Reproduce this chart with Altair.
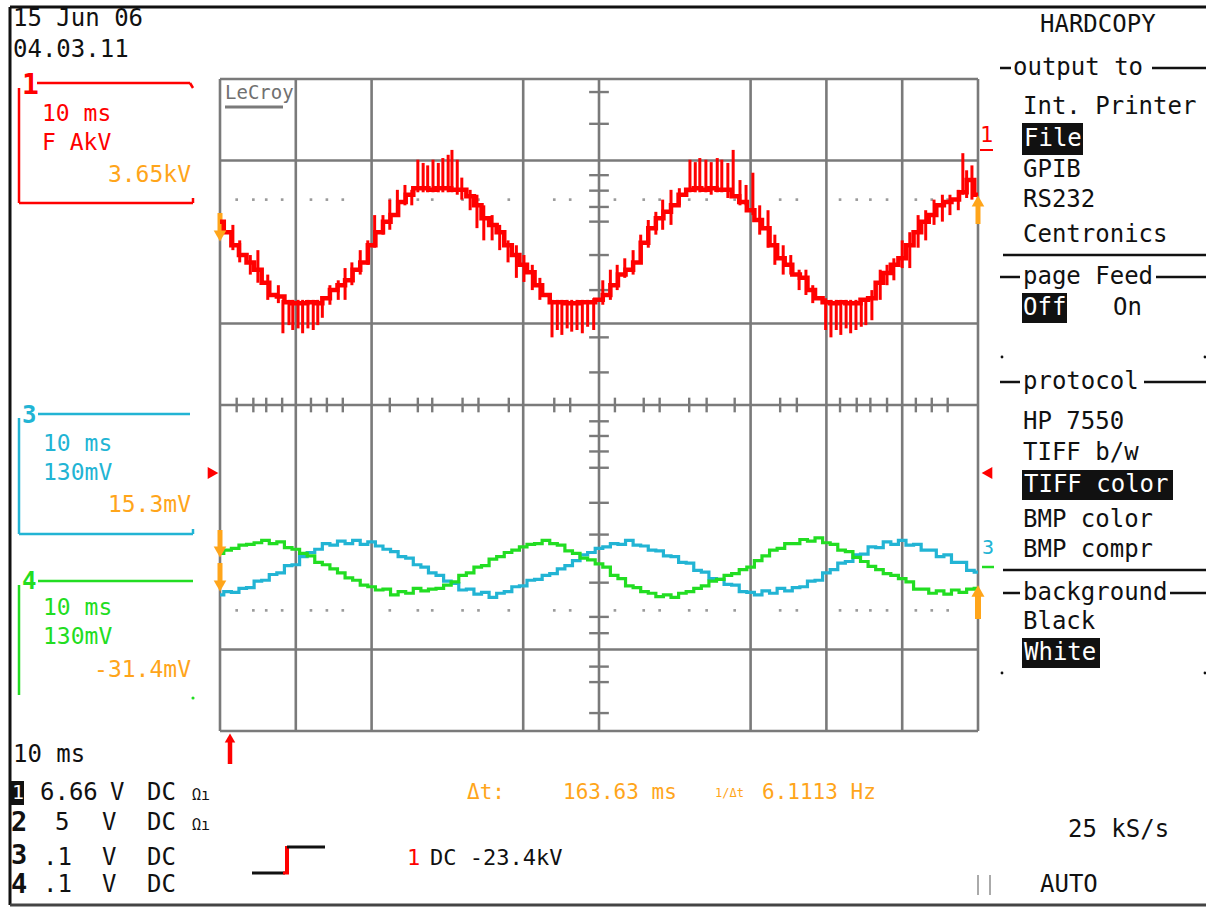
import altair as alt
import pandas as pd

# ---------------------------------------------------------------------------
# Screen geometry of the scope display: graticule of 10 x 8 divisions
# ---------------------------------------------------------------------------
W, H = 1206, 907
GRID_LEFT = 220.0      # left edge of the graticule (px)
GRID_MID_Y = 405.0     # horizontal centre line (px)
PX_PER_DIV_X = 75.8
PX_PER_DIV_Y = 81.5


def dx(px):
    """screen column -> time divisions"""
    return (px - GRID_LEFT) / PX_PER_DIV_X


def dy(py):
    """screen row -> vertical divisions"""
    return (GRID_MID_Y - py) / PX_PER_DIV_Y


XS = alt.Scale(domain=[dx(0), dx(W)], nice=False, zero=False)
YS = alt.Scale(domain=[dy(H), dy(0)], nice=False, zero=False)

RED = "#ff0000"
CYAN = "#22b4d4"
GREEN = "#22dd22"
ORANGE = "#ffa51a"
GRID = "#7a7a7a"
BLACK = "#111111"
WHITE = "#ffffff"
FONT = "DejaVu Sans Mono"

# ---------------------------------------------------------------------------
# Acquired traces, one sample every 0.1 div (values in divisions)
# ---------------------------------------------------------------------------
T = [i / 10 for i in range(101)]

RED_DIV = [
    2.25, 2.12, 1.96, 1.84, 1.75, 1.66, 1.50, 1.35, 1.33, 1.26,
    1.25, 1.25, 1.26, 1.25, 1.31, 1.41, 1.47, 1.53, 1.66, 1.75,
    1.96, 2.12, 2.25, 2.33, 2.49, 2.58, 2.66, 2.66, 2.64, 2.66,
    2.66, 2.64, 2.64, 2.56, 2.45, 2.29, 2.21, 2.12, 1.96, 1.84,
    1.72, 1.63, 1.47, 1.35, 1.26, 1.26, 1.25, 1.25, 1.26, 1.26,
    1.29, 1.35, 1.47, 1.60, 1.66, 1.75, 1.99, 2.17, 2.29, 2.37,
    2.45, 2.58, 2.64, 2.66, 2.64, 2.66, 2.64, 2.64, 2.56, 2.49,
    2.39, 2.27, 2.17, 1.96, 1.80, 1.72, 1.60, 1.56, 1.41, 1.31,
    1.26, 1.25, 1.26, 1.25, 1.25, 1.29, 1.31, 1.50, 1.62, 1.72,
    1.80, 1.96, 2.12, 2.25, 2.33, 2.45, 2.49, 2.52, 2.61, 2.76,
    2.58,
]

# switching spikes riding on channel 1 (time, top, bottom)
RED_SPIKE_T = [
    0.17, 0.26, 0.40, 0.50, 0.63, 0.77,
    0.83, 0.91, 0.96, 1.03, 1.09, 1.16, 1.23, 1.29, 1.35,
    1.45, 1.56, 1.65, 1.74, 1.85, 1.95, 2.04, 2.15, 2.24, 2.34, 2.44, 2.53,
    2.61, 2.68, 2.74, 2.81, 2.88, 2.94, 3.01, 3.06, 3.13, 3.19,
    3.30, 3.39, 3.48, 3.59, 3.69, 3.80, 3.91, 4.01, 4.12, 4.22,
    4.38, 4.45, 4.51, 4.58, 4.64, 4.71, 4.78, 4.85, 4.93,
    5.05, 5.15, 5.24, 5.34, 5.45, 5.55, 5.65, 5.75, 5.84, 5.95, 6.06,
    6.20, 6.27, 6.33, 6.41, 6.48, 6.56, 6.62, 6.70, 6.77, 6.86, 6.94, 7.03,
    7.12, 7.23, 7.32, 7.43, 7.53, 7.64, 7.73, 7.82,
    7.99, 8.06, 8.13, 8.19, 8.26, 8.32, 8.39, 8.46, 8.52, 8.60,
    8.71, 8.80, 8.89, 9.00, 9.10, 9.21, 9.31, 9.42, 9.53, 9.63, 9.74,
    9.80, 9.85, 9.92,
]
RED_SPIKE_HI = [
    2.21, 2.02, 1.84, 1.90, 1.60, 1.47,
    1.29, 1.29, 1.29, 1.29, 1.29, 1.29, 1.29, 1.29, 1.33,
    1.47, 1.53, 1.68, 1.75, 1.90, 2.02, 2.33, 2.33, 2.52, 2.64, 2.70, 2.64,
    3.01, 2.97, 2.94, 3.01, 2.97, 3.03, 3.07, 3.13, 3.01, 2.79,
    2.64, 2.58, 2.45, 2.33, 2.21, 2.02, 1.96, 1.84, 1.72, 1.56,
    1.29, 1.29, 1.29, 1.29, 1.29, 1.29, 1.29, 1.29, 1.31,
    1.53, 1.66, 1.72, 1.80, 1.90, 2.09, 2.27, 2.37, 2.52, 2.64, 2.66,
    3.01, 2.98, 3.03, 3.01, 2.98, 3.03, 3.01, 2.97, 3.13, 2.76, 2.70, 2.85,
    2.45, 2.39, 2.09, 1.96, 1.84, 1.66, 1.66, 1.47,
    1.31, 1.29, 1.29, 1.29, 1.29, 1.29, 1.29, 1.29, 1.31, 1.41,
    1.66, 1.72, 1.80, 2.02, 2.12, 2.33, 2.39, 2.52, 2.58, 2.58, 2.64,
    3.09, 2.88, 2.94,
]
RED_SPIKE_LO = [
    1.90, 1.75, 1.60, 1.50, 1.29, 1.25,
    0.88, 0.98, 0.92, 0.94, 0.88, 0.94, 0.92, 0.98, 1.07,
    1.23, 1.29, 1.29, 1.47, 1.60, 1.72, 1.93, 2.09, 2.15, 2.33, 2.45, 2.45,
    2.61, 2.61, 2.61, 2.61, 2.61, 2.61, 2.61, 2.61, 2.58, 2.52,
    2.39, 2.17, 2.02, 2.02, 1.90, 1.75, 1.56, 1.51, 1.41, 1.29,
    0.83, 0.92, 0.86, 0.94, 0.90, 0.92, 0.88, 0.96, 0.92,
    1.23, 1.29, 1.41, 1.56, 1.60, 1.80, 1.93, 2.09, 2.15, 2.21, 2.45,
    2.61, 2.61, 2.61, 2.61, 2.58, 2.61, 2.61, 2.54, 2.58, 2.45, 2.45, 2.33,
    2.09, 1.93, 1.72, 1.60, 1.60, 1.41, 1.35, 1.25,
    0.92, 0.83, 0.92, 0.86, 0.94, 0.88, 0.92, 0.96, 0.98, 1.04,
    1.29, 1.47, 1.53, 1.68, 1.68, 1.93, 2.02, 2.21, 2.25, 2.33, 2.39,
    2.58, 2.54, 2.52,
]

CYAN_DIV = [
    -2.33, -2.29, -2.30, -2.25, -2.24, -2.16, -2.15, -2.08, -2.06, -1.97,
    -1.96, -1.86, -1.81, -1.77, -1.70, -1.72, -1.67, -1.70, -1.66, -1.71,
    -1.68, -1.73, -1.77, -1.80, -1.86, -1.88, -1.96, -1.99, -2.06, -2.09,
    -2.16, -2.19, -2.27, -2.26, -2.32, -2.30, -2.36, -2.31, -2.29, -2.23,
    -2.22, -2.15, -2.14, -2.09, -2.07, -2.01, -1.97, -1.91, -1.84, -1.81,
    -1.76, -1.74, -1.70, -1.71, -1.66, -1.72, -1.73, -1.78, -1.79, -1.85,
    -1.86, -1.93, -1.94, -2.03, -2.05, -2.13, -2.14, -2.20, -2.21, -2.29,
    -2.30, -2.33, -2.28, -2.31, -2.25, -2.28, -2.24, -2.23, -2.16, -2.15,
    -2.06, -2.02, -1.94, -1.92, -1.84, -1.83, -1.74, -1.75, -1.68, -1.71,
    -1.66, -1.72, -1.71, -1.78, -1.78, -1.86, -1.84, -1.93, -1.93, -2.03,
    -2.05,
]

GREEN_DIV = [
    -1.82, -1.78, -1.76, -1.72, -1.71, -1.69, -1.66, -1.70, -1.68, -1.75,
    -1.77, -1.82, -1.85, -1.93, -1.96, -2.01, -2.06, -2.12, -2.15, -2.21,
    -2.23, -2.27, -2.26, -2.33, -2.29, -2.31, -2.25, -2.28, -2.26, -2.25,
    -2.21, -2.17, -2.09, -2.06, -1.99, -1.97, -1.89, -1.86, -1.81, -1.78,
    -1.74, -1.71, -1.70, -1.66, -1.70, -1.72, -1.79, -1.82, -1.88, -1.90,
    -1.95, -1.99, -2.09, -2.13, -2.22, -2.24, -2.29, -2.31, -2.35, -2.33,
    -2.36, -2.31, -2.29, -2.25, -2.22, -2.16, -2.14, -2.09, -2.07, -2.02,
    -1.99, -1.91, -1.85, -1.78, -1.76, -1.70, -1.70, -1.65, -1.67, -1.63,
    -1.69, -1.71, -1.78, -1.80, -1.87, -1.92, -1.98, -2.02, -2.07, -2.09,
    -2.13, -2.17, -2.26, -2.26, -2.31, -2.28, -2.32, -2.27, -2.30, -2.26,
    -2.25,
]

# ---------------------------------------------------------------------------
# Graticule (divisions)
# ---------------------------------------------------------------------------
V_LINES = [0, 1, 2, 4, 5, 7, 8, 9, 10]
H_LINES = [4, 3, 1, 0, -3, -4]
H_TICKS = [0.22, 0.44, 0.61, 0.82, 1.20, 1.41, 1.62, 2.24, 2.61, 2.80,
           3.20, 3.41, 3.81, 4.41, 4.62, 5.21, 5.59, 5.80, 6.19, 6.42,
           6.79, 7.39, 7.61, 8.18, 8.40, 8.58, 8.80, 9.18, 9.39, 9.60]
V_TICKS = [3.84, 3.45, 2.82, 2.63, 2.43, 2.25, 1.84, 1.41, 0.83, 0.40,
           -0.20, -0.38, -0.57, -0.77, -1.20, -1.59, -2.18, -2.60, -2.80,
           -3.21, -3.40, -3.78]
DOT_ROWS = [2.52, -2.52]


def X(field="x"):
    return alt.X(f"{field}:Q", scale=XS, axis=None)


def Y(field="y"):
    return alt.Y(f"{field}:Q", scale=YS, axis=None)


def segments(rows):
    return pd.DataFrame([
        {"x": dx(a), "y": dy(b), "x2": dx(c), "y2": dy(d), "c": col, "w": w}
        for a, b, c, d, col, w in rows
    ])


def rule_layer(df):
    return alt.Chart(df).mark_rule(strokeCap="butt").encode(
        x=X(), y=Y(), x2="x2:Q", y2="y2:Q",
        color=alt.Color("c:N", scale=None),
        strokeWidth=alt.StrokeWidth("w:Q", scale=None),
    )


# graticule lines and centre-axis ticks
grid_rows = []
for v in V_LINES:
    grid_rows.append({"x": v, "y": -4, "x2": v, "y2": 4, "c": GRID, "w": 2.6})
for h in H_LINES:
    grid_rows.append({"x": 0, "y": h, "x2": 10, "y2": h, "c": GRID, "w": 2.6})
for t in H_TICKS:
    grid_rows.append({"x": t, "y": -0.09, "x2": t, "y2": 0.09, "c": GRID, "w": 2.4})
for v in V_TICKS:
    grid_rows.append({"x": 4.87, "y": v, "x2": 5.13, "y2": v, "c": GRID, "w": 2.4})
grid = rule_layer(pd.DataFrame(grid_rows))

dots_df = pd.DataFrame([{"x": t, "y": r} for r in DOT_ROWS for t in H_TICKS])
dots = alt.Chart(dots_df).mark_square(size=7, color="#9a9a9a", opacity=1).encode(x=X(), y=Y())

# ---------------------------------------------------------------------------
# Traces
# ---------------------------------------------------------------------------
cyan_df = pd.DataFrame({"x": T, "y": CYAN_DIV})
green_df = pd.DataFrame({"x": T, "y": GREEN_DIV})
red_df = pd.DataFrame({"x": T, "y": RED_DIV})
spike_df = pd.DataFrame({"x": RED_SPIKE_T, "y": RED_SPIKE_LO, "y2": RED_SPIKE_HI})

cyan_line = alt.Chart(cyan_df).mark_line(color=CYAN, strokeWidth=3.2, interpolate="step").encode(x=X(), y=Y())
green_line = alt.Chart(green_df).mark_line(color=GREEN, strokeWidth=3.2, interpolate="step").encode(x=X(), y=Y())
red_spikes = alt.Chart(spike_df).mark_rule(color=RED, strokeWidth=3).encode(x=X(), y=Y(), y2="y2:Q")
red_line = alt.Chart(red_df).mark_line(color=RED, strokeWidth=4.5, interpolate="step").encode(x=X(), y=Y())

# ---------------------------------------------------------------------------
# Frame, channel boxes, menus and markers (screen pixels -> divisions)
# ---------------------------------------------------------------------------
deco = rule_layer(segments([
    # outer frame
    (10, 7, 1206, 7, BLACK, 3), (10, 7, 10, 905, BLACK, 3), (10, 905, 1206, 905, "#444444", 3),
    # channel 1 box
    (37, 83, 190, 83, RED, 2.5), (190, 83, 193, 88, RED, 2.5),
    (19, 88, 19, 203, RED, 2.5), (19, 203, 193, 203, RED, 2.5), (193, 203, 193, 198, RED, 2.5),
    # channel 3 box
    (38, 414, 190, 414, CYAN, 2.5), (19, 418, 19, 534, CYAN, 2.5),
    (19, 534, 193, 534, CYAN, 2.5), (193, 534, 193, 529, CYAN, 2.5),
    # channel 4 box
    (38, 581, 193, 581, GREEN, 2.5), (19, 585, 19, 695, GREEN, 2.5),
    # menu separators and header dashes
    (1003, 255, 1206, 255, BLACK, 2.5), (1003, 570, 1206, 570, BLACK, 2.5),
    (1000, 68, 1011, 68, BLACK, 2.5), (1152, 68, 1206, 68, BLACK, 2.5),
    (1000, 277, 1020, 277, BLACK, 2.5), (1156, 277, 1206, 277, BLACK, 2.5),
    (1000, 382, 1020, 382, BLACK, 2.5), (1144, 382, 1206, 382, BLACK, 2.5),
    (1003, 593, 1020, 593, BLACK, 2.5), (1170, 593, 1206, 593, BLACK, 2.5),
    # LeCroy underline, channel-1 marker underline
    (225, 107, 283, 107, GRID, 3), (980, 150, 993, 150, RED, 2),
    # trigger slope symbol
    (252, 873, 285, 873, BLACK, 3), (283, 873, 289, 873, RED, 3),
    (287, 874, 287, 846, RED, 4), (287, 847, 325, 847, BLACK, 3),
    # trigger position arrow
    (230, 742, 230, 764, RED, 4.5),
    # ch3/ch4 offset mark, acquisition state bars
    (982, 567, 994, 567, GREEN, 2.5),
    (978, 875, 978, 895, "#aaaaaa", 2), (990, 875, 990, 895, "#aaaaaa", 2),
    # cursor arrow stems
    (220, 213, 220, 232, ORANGE, 5), (978, 204, 978, 224, ORANGE, 5),
    (220, 530, 220, 549, ORANGE, 5), (220, 563, 220, 583, ORANGE, 5),
    (978, 592, 978, 619, ORANGE, 6),
]))

rects_df = pd.DataFrame([
    {"x": dx(a), "y": dy(b), "x2": dx(c), "y2": dy(d)}
    for a, b, c, d in [
        (1022, 123, 1083, 155), (1022, 293, 1067, 323),
        (1022, 470, 1173, 500), (1022, 638, 1100, 668),
        (10, 781, 24, 805),
    ]
])
rects = alt.Chart(rects_df).mark_rect(color=BLACK).encode(x=X(), y=Y(), x2="x2:Q", y2="y2:Q")

marks_df = pd.DataFrame([
    {"x": dx(a), "y": dy(b), "shape": s, "c": col, "s": size}
    for a, b, s, col, size in [
        (220, 236, "triangle-down", ORANGE, 160),
        (978, 201, "triangle-up", ORANGE, 160),
        (220, 552, "triangle-down", ORANGE, 160),
        (220, 586, "triangle-down", ORANGE, 160),
        (978, 591, "triangle-up", ORANGE, 170),
        (213, 473, "triangle-right", RED, 150),
        (987, 473, "triangle-left", RED, 150),
        (230, 738, "triangle-up", RED, 110),
        (193, 698, "circle", GREEN, 10),
        (1002, 357, "circle", BLACK, 8), (1205, 357, "circle", BLACK, 8),
        (1002, 673, "circle", BLACK, 8), (1205, 673, "circle", BLACK, 8),
    ]
])
markers = alt.Chart(marks_df).mark_point(filled=True, opacity=1).encode(
    x=X(), y=Y(),
    shape=alt.Shape("shape:N", scale=None),
    color=alt.Color("c:N", scale=None),
    size=alt.Size("s:Q", scale=None),
)

# ---------------------------------------------------------------------------
# Text
# ---------------------------------------------------------------------------
LEFT_TEXT = [
    ("15 Jun 06", 13, 19, BLACK, 24),
    ("04.03.11", 13, 50, BLACK, 24),
    ("10 ms", 42, 114, RED, 23),
    ("F AkV", 42, 143, RED, 23),
    ("10 ms", 43, 444, CYAN, 23),
    ("130mV", 43, 473, CYAN, 23),
    ("10 ms", 43, 608, GREEN, 23),
    ("130mV", 43, 637, GREEN, 23),
    ("LeCroy", 225, 93, "#707070", 19),
    ("1", 980, 135, RED, 22),
    ("3", 982, 548, CYAN, 20),
    # timebase and channel settings
    ("10 ms", 13, 755, BLACK, 24),
    ("6.66", 40, 793, BLACK, 24), ("V", 110, 793, BLACK, 24), ("DC", 147, 793, BLACK, 24),
    ("5", 55, 823, BLACK, 24), ("V", 102, 823, BLACK, 24), ("DC", 147, 823, BLACK, 24),
    (".1", 43, 858, BLACK, 24), ("V", 102, 858, BLACK, 24), ("DC", 147, 858, BLACK, 24),
    (".1", 43, 885, BLACK, 24), ("V", 102, 885, BLACK, 24), ("DC", 147, 885, BLACK, 24),
    ("Ωı", 192, 795, BLACK, 15), ("Ωı", 192, 825, BLACK, 15),
    # trigger and cursor readout
    ("1", 407, 858, RED, 22),
    ("DC -23.4kV", 430, 858, BLACK, 22),
    ("Δt:", 467, 793, ORANGE, 21),
    ("163.63 ms", 563, 793, ORANGE, 21),
    ("1/Δt", 715, 793, ORANGE, 12),
    ("6.1113 Hz", 762, 793, ORANGE, 21),
    ("25 kS/s", 1068, 830, BLACK, 24),
    ("AUTO", 1040, 885, BLACK, 24),
    # hardcopy menu
    ("HARDCOPY", 1040, 25, BLACK, 24),
    ("output to", 1013, 68, BLACK, 24),
    ("Int. Printer", 1023, 107, BLACK, 24),
    ("GPIB", 1023, 170, BLACK, 24),
    ("RS232", 1023, 200, BLACK, 24),
    ("Centronics", 1023, 235, BLACK, 24),
    ("page Feed", 1023, 277, BLACK, 24),
    ("On", 1113, 308, BLACK, 24),
    ("protocol", 1023, 382, BLACK, 24),
    ("HP 7550", 1023, 422, BLACK, 24),
    ("TIFF b/w", 1023, 453, BLACK, 24),
    ("BMP color", 1023, 520, BLACK, 24),
    ("BMP compr", 1023, 550, BLACK, 24),
    ("background", 1023, 593, BLACK, 24),
    ("Black", 1023, 622, BLACK, 24),
    # highlighted menu entries
    ("File", 1024, 139, WHITE, 24),
    ("Off", 1023, 308, WHITE, 24),
    ("TIFF color", 1024, 485, WHITE, 24),
    ("White", 1024, 653, WHITE, 24),
    ("1", 12, 793, WHITE, 20),
]
RIGHT_TEXT = [
    ("3.65kV", 191, 175, ORANGE, 23),
    ("15.3mV", 191, 505, ORANGE, 23),
    ("-31.4mV", 191, 670, ORANGE, 23),
]
BOLD_TEXT = [
    ("1", 22, 86, RED, 28),
    ("3", 22, 416, CYAN, 24),
    ("4", 22, 582, GREEN, 24),
    ("2", 11, 823, BLACK, 27),
    ("3", 11, 856, BLACK, 27),
    ("4", 11, 885, BLACK, 27),
]


def text_layer(items, align="left", weight="normal"):
    df = pd.DataFrame([
        {"x": dx(a), "y": dy(b), "t": s, "c": col, "s": size}
        for s, a, b, col, size in items
    ])
    return alt.Chart(df).mark_text(
        align=align, baseline="middle", font=FONT, fontWeight=weight
    ).encode(
        x=X(), y=Y(), text="t:N",
        color=alt.Color("c:N", scale=None),
        size=alt.Size("s:Q", scale=None),
    )


chart = alt.layer(
    grid, dots, deco, rects,
    cyan_line, green_line, red_spikes, red_line,
    markers,
    text_layer(LEFT_TEXT),
    text_layer(RIGHT_TEXT, align="right"),
    text_layer(BOLD_TEXT, weight="bold"),
).properties(
    width=W, height=H, padding=0, autosize="none", background="white"
).configure_view(stroke=None)

chart.save("out.html", embed_options={"renderer": "svg", "actions": False})
